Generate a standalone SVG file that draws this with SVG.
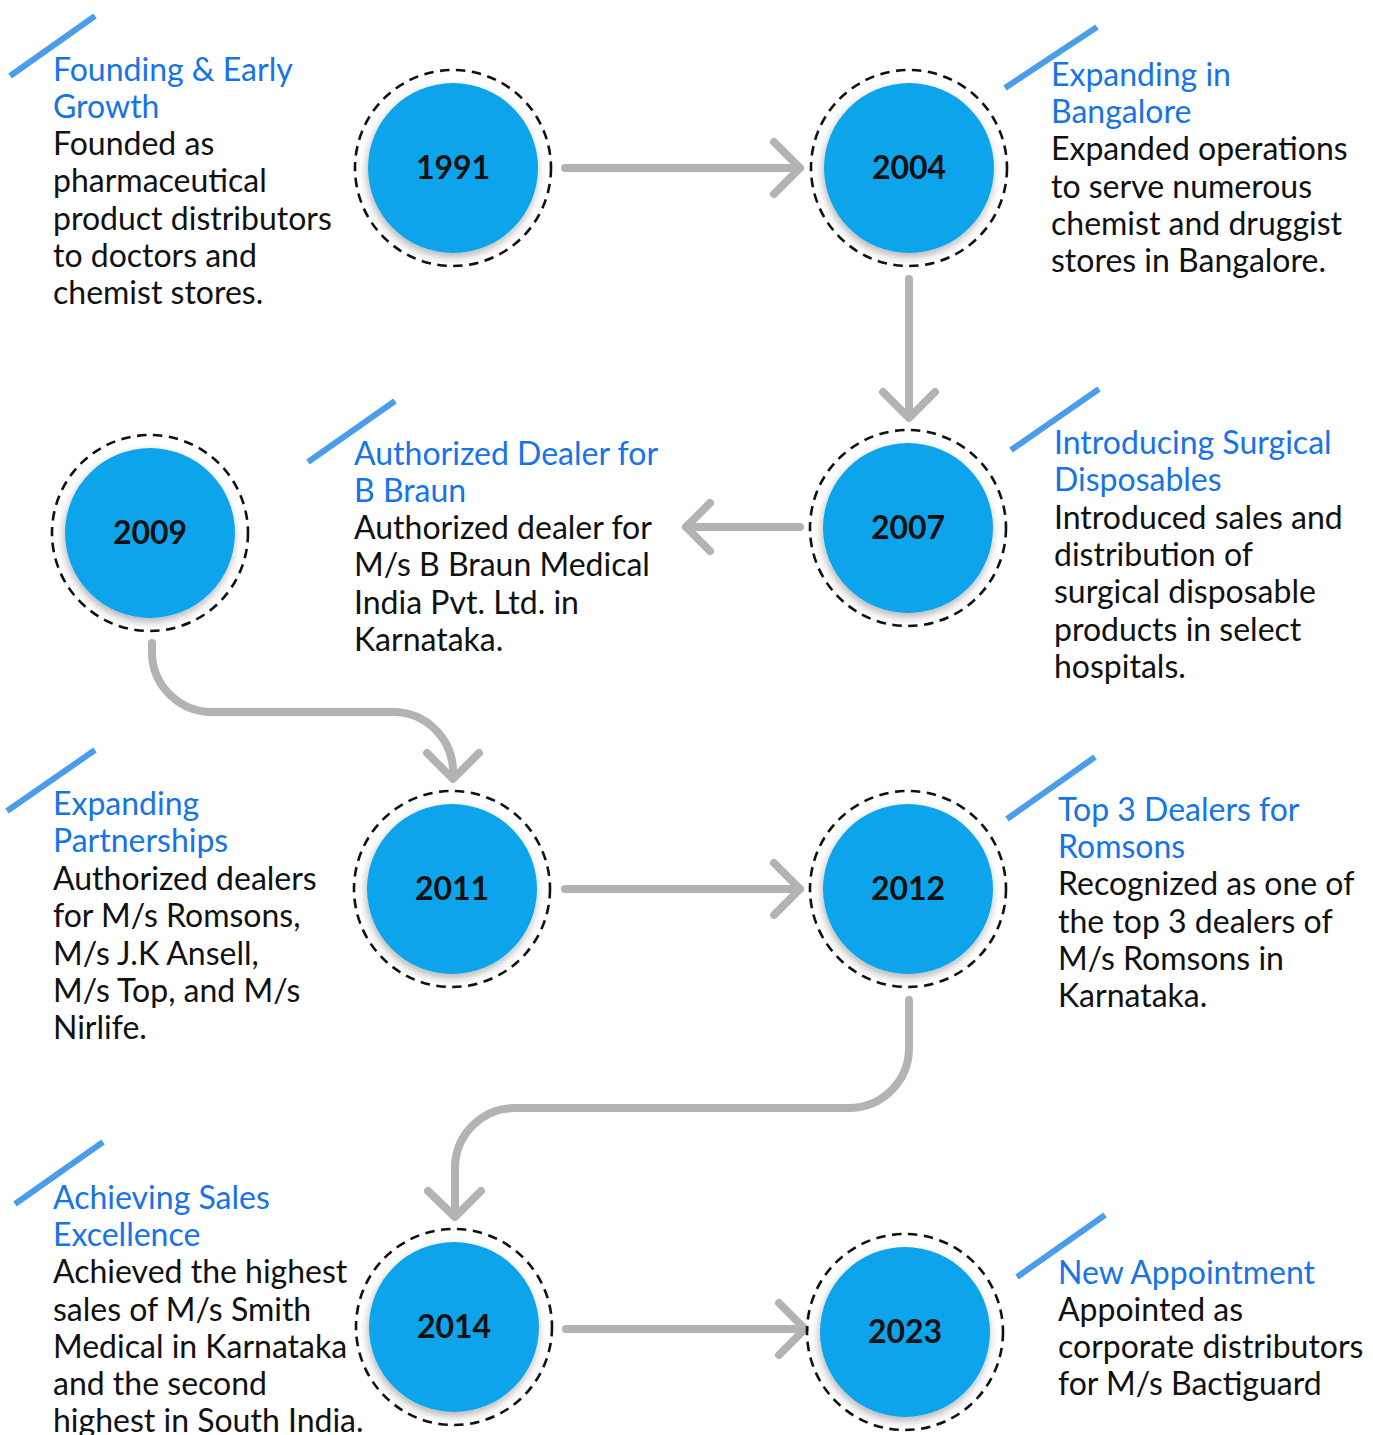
<svg xmlns="http://www.w3.org/2000/svg" width="1373" height="1435" viewBox="0 0 1373 1435">
<style>
.ring{fill:none;stroke:#111;stroke-width:2.6;stroke-dasharray:9.5 6.5}
.disc{fill:#0aa4eb;filter:url(#sh)}
.yr{font-family:Lato,"Liberation Sans",sans-serif;font-weight:bold;font-size:32px;fill:#111;text-anchor:middle}
.conn{fill:none;stroke:#b3b3b3;stroke-width:8;stroke-linecap:round;stroke-linejoin:round}
.slash{stroke:#4a9de8;stroke-width:6}
.t{font-family:Lato,"Liberation Sans",sans-serif;font-size:32px;fill:#111}
.h{fill:#1673e8}
</style>
<defs>
<filter id="sh" x="-20%" y="-20%" width="140%" height="150%">
<feDropShadow dx="-1" dy="4" stdDeviation="4" flood-color="#000" flood-opacity="0.3"/>
</filter>
</defs>
<rect width="1373" height="1435" fill="#fff"/>
<g id="connectors">
<path class="conn" d="M565,168 H800 M774,142 L800,168 L774,194"/>
<path class="conn" d="M909,279 V416 M883,392 L909,418 L935,392"/>
<path class="conn" d="M800,527 H686 M710,503 L686,527 L710,551"/>
<path class="conn" d="M152,643 V652 A60,60 0 0 0 212,712 H393 A60,60 0 0 1 453,772 V778 M427,753 L453,779 L479,753"/>
<path class="conn" d="M565,889 H800 M774,863 L800,889 L774,915"/>
<path class="conn" d="M909,1000 V1048 A60,60 0 0 1 849,1108 H515 A60,60 0 0 0 455,1168 V1216 M428,1191 L455,1217 L481,1191"/>
<path class="conn" d="M566,1329 H805 M779,1303 L805,1329 L779,1355"/>
</g>
<g id="n1991"><circle class="ring" cx="453" cy="168" r="98"/><circle class="disc" cx="453" cy="168" r="85"/><text class="yr" x="453" y="179">1991</text></g>
<g id="n2004"><circle class="ring" cx="909" cy="168" r="98"/><circle class="disc" cx="909" cy="168" r="85"/><text class="yr" x="909" y="179">2004</text></g>
<g id="n2007"><circle class="ring" cx="908" cy="528" r="98"/><circle class="disc" cx="908" cy="528" r="85"/><text class="yr" x="908" y="539">2007</text></g>
<g id="n2009"><circle class="ring" cx="150" cy="533" r="98"/><circle class="disc" cx="150" cy="533" r="85"/><text class="yr" x="150" y="544">2009</text></g>
<g id="n2011"><circle class="ring" cx="452" cy="889" r="98"/><circle class="disc" cx="452" cy="889" r="85"/><text class="yr" x="452" y="900">2011</text></g>
<g id="n2012"><circle class="ring" cx="908" cy="889" r="98"/><circle class="disc" cx="908" cy="889" r="85"/><text class="yr" x="908" y="900">2012</text></g>
<g id="n2014"><circle class="ring" cx="454" cy="1327" r="98"/><circle class="disc" cx="454" cy="1327" r="85"/><text class="yr" x="454" y="1338">2014</text></g>
<g id="n2023"><circle class="ring" cx="905" cy="1332" r="98"/><circle class="disc" cx="905" cy="1332" r="85"/><text class="yr" x="905" y="1343">2023</text></g>
<g id="d1991"><line class="slash" x1="10" y1="76" x2="95" y2="16"/>
<text class="t"><tspan class="h" x="53" y="81">Founding &amp; Early</tspan><tspan class="h" x="53" y="118">Growth</tspan><tspan x="53" y="155">Founded as</tspan><tspan x="53" y="192">pharmaceutical</tspan><tspan x="53" y="230">product distributors</tspan><tspan x="53" y="267">to doctors and</tspan><tspan x="53" y="304">chemist stores.</tspan></text></g>
<g id="d2004"><line class="slash" x1="1005" y1="88" x2="1097" y2="27"/>
<text class="t"><tspan class="h" x="1051" y="86">Expanding in</tspan><tspan class="h" x="1051" y="123">Bangalore</tspan><tspan x="1051" y="160">Expanded operations</tspan><tspan x="1051" y="198">to serve numerous</tspan><tspan x="1051" y="235">chemist and druggist</tspan><tspan x="1051" y="272">stores in Bangalore.</tspan></text></g>
<g id="d2009"><line class="slash" x1="308" y1="462" x2="395" y2="401"/>
<text class="t"><tspan class="h" x="354" y="465">Authorized Dealer for</tspan><tspan class="h" x="354" y="502">B Braun</tspan><tspan x="354" y="539">Authorized dealer for</tspan><tspan x="354" y="576">M/s B Braun Medical</tspan><tspan x="354" y="614">India Pvt. Ltd. in</tspan><tspan x="354" y="651">Karnataka.</tspan></text></g>
<g id="d2007"><line class="slash" x1="1011" y1="450" x2="1099" y2="389"/>
<text class="t"><tspan class="h" x="1054" y="454">Introducing Surgical</tspan><tspan class="h" x="1054" y="491">Disposables</tspan><tspan x="1054" y="529">Introduced sales and</tspan><tspan x="1054" y="566">distribution of</tspan><tspan x="1054" y="603">surgical disposable</tspan><tspan x="1054" y="641">products in select</tspan><tspan x="1054" y="678">hospitals.</tspan></text></g>
<g id="d2011"><line class="slash" x1="7" y1="811" x2="95" y2="750"/>
<text class="t"><tspan class="h" x="53" y="815">Expanding</tspan><tspan class="h" x="53" y="852">Partnerships</tspan><tspan x="53" y="890">Authorized dealers</tspan><tspan x="53" y="927">for M/s Romsons,</tspan><tspan x="53" y="965">M/s J.K Ansell,</tspan><tspan x="53" y="1002">M/s Top, and M/s</tspan><tspan x="53" y="1039">Nirlife.</tspan></text></g>
<g id="d2012"><line class="slash" x1="1007" y1="819" x2="1095" y2="757"/>
<text class="t"><tspan class="h" x="1058" y="821">Top 3 Dealers for</tspan><tspan class="h" x="1058" y="858">Romsons</tspan><tspan x="1058" y="895">Recognized as one of</tspan><tspan x="1058" y="933">the top 3 dealers of</tspan><tspan x="1058" y="970">M/s Romsons in</tspan><tspan x="1058" y="1007">Karnataka.</tspan></text></g>
<g id="d2014"><line class="slash" x1="15" y1="1204" x2="103" y2="1142"/>
<text class="t"><tspan class="h" x="53" y="1209">Achieving Sales</tspan><tspan class="h" x="53" y="1246">Excellence</tspan><tspan x="53" y="1283">Achieved the highest</tspan><tspan x="53" y="1321">sales of M/s Smith</tspan><tspan x="53" y="1358">Medical in Karnataka</tspan><tspan x="53" y="1395">and the second</tspan><tspan x="53" y="1432">highest in South India.</tspan></text></g>
<g id="d2023"><line class="slash" x1="1017" y1="1277" x2="1105" y2="1215"/>
<text class="t"><tspan class="h" x="1058" y="1284">New Appointment</tspan><tspan x="1058" y="1321">Appointed as</tspan><tspan x="1058" y="1358">corporate distributors</tspan><tspan x="1058" y="1395">for M/s Bactiguard</tspan></text></g>
</svg>
